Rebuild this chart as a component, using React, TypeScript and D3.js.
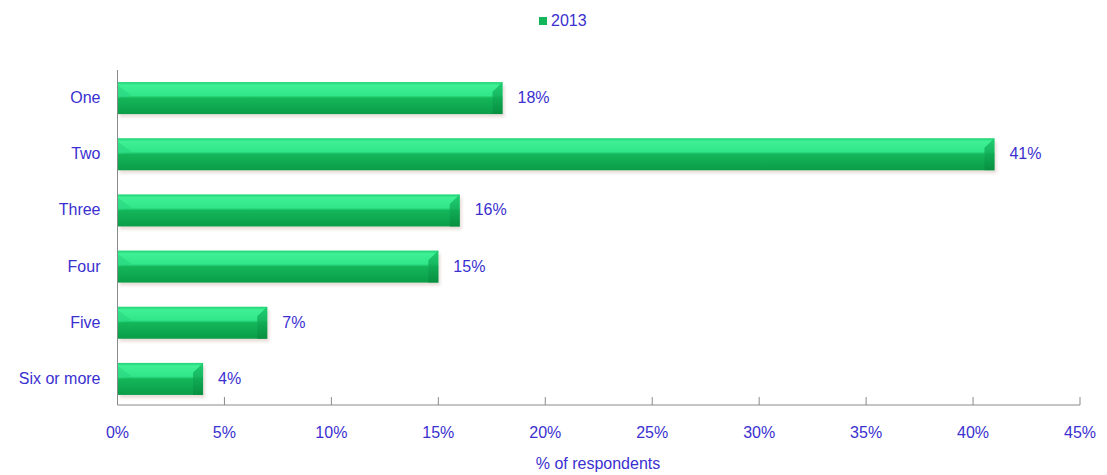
import React from "react";
import * as d3 from "d3";

const categories = ["One", "Two", "Three", "Four", "Five", "Six or more"];
const values2013 = [18, 41, 16, 15, 7, 4];
const xTicks = [0, 5, 10, 15, 20, 25, 30, 35, 40, 45];
const seriesName = "2013";
const axisTitle = "% of respondents";

const W = 1107;
const H = 475;
const textColor = "#3a30d0";
const font = "'Liberation Sans', Arial, sans-serif";

export default function App() {
  const x = d3.scaleLinear().domain([0, 45]).range([117.5, 1080]);
  const y = d3
    .scaleBand<string>()
    .domain(categories)
    .range([70, 407])
    .paddingInner(0.43)
    .paddingOuter(0.215);
  const bw = y.bandwidth();
  const axisY = 405;

  return (
    <svg
      width={W}
      height={H}
      style={{ position: "absolute", left: 0, top: 0, background: "#fff" }}
    >
      <defs>
        <linearGradient id="barGrad" x1="0" y1="0" x2="0" y2="1">
          <stop offset="0%" stopColor="#1fd275" />
          <stop offset="10%" stopColor="#3ff095" />
          <stop offset="42%" stopColor="#30e689" />
          <stop offset="50%" stopColor="#14b65a" />
          <stop offset="100%" stopColor="#0a9d48" />
        </linearGradient>
        <linearGradient id="endGrad" x1="0" y1="0" x2="0" y2="1">
          <stop offset="0%" stopColor="#18c468" />
          <stop offset="100%" stopColor="#078c3e" />
        </linearGradient>
        <filter id="sh" x="-5%" y="-20%" width="110%" height="150%">
          <feGaussianBlur stdDeviation="1.5" />
        </filter>
      </defs>

      {/* legend */}
      <rect x={539} y={17} width={8} height={8} fill="#14b65a" />
      <text x={551} y={26} fontFamily={font} fontSize={16} fill={textColor}>
        {seriesName}
      </text>

      {/* bars */}
      {categories.map((c, i) => {
        const y0 = y(c)!;
        const x0 = x(0);
        const x1 = x(values2013[i]);
        const w = x1 - x0;
        return (
          <g key={c}>
            <rect
              x={x0 + 2}
              y={y0 + 3}
              width={w}
              height={bw}
              fill="#d8c8c0"
              opacity={0.6}
              filter="url(#sh)"
            />
            <rect x={x0} y={y0} width={w} height={bw} fill="url(#barGrad)" />
            <path
              d={`M${x1 - 10},${y0 + bw * 0.3} L${x1},${y0} L${x1},${y0 + bw} L${x1 - 10},${y0 + bw}  Z`}
              fill="url(#endGrad)"
              opacity={0.8}
            />
            <path
              d={`M${x0},${y0 + bw * 0.1} L${x0 + 14},${y0 + bw * 0.42} L${x0},${y0 + bw * 0.5} Z`}
              fill="#2ad680"
              opacity={0.6}
            />
            <text
              x={x1 + 15}
              y={y0 + bw / 2 + 5}
              fontFamily={font}
              fontSize={16}
              fill={textColor}
            >
              {values2013[i]}%
            </text>
            <text
              x={x0 - 17}
              y={y0 + bw / 2 + 5}
              textAnchor="end"
              fontFamily={font}
              fontSize={16}
              fill={textColor}
            >
              {c}
            </text>
          </g>
        );
      })}

      {/* axes */}
      <line x1={x(0)} x2={x(0)} y1={70} y2={axisY} stroke="#8a8a8a" strokeWidth={1} />
      <line x1={x(0)} x2={x(45)} y1={axisY} y2={axisY} stroke="#8a8a8a" strokeWidth={1} />
      {xTicks.map((t) => (
        <g key={t}>
          <line x1={x(t)} x2={x(t)} y1={axisY} y2={axisY - 8} stroke="#8a8a8a" strokeWidth={1} />
          <text
            x={x(t)}
            y={438}
            textAnchor="middle"
            fontFamily={font}
            fontSize={16}
            fill={textColor}
          >
            {t}%
          </text>
        </g>
      ))}
      <text
        x={598}
        y={469}
        textAnchor="middle"
        fontFamily={font}
        fontSize={16}
        fill={textColor}
      >
        {axisTitle}
      </text>
    </svg>
  );
}
